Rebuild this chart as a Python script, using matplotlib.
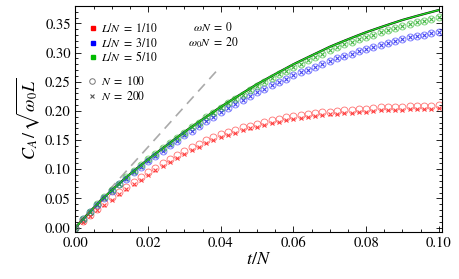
import numpy as np
import matplotlib
matplotlib.use('Agg')
import matplotlib.pyplot as plt
from matplotlib.ticker import MultipleLocator, FormatStrFormatter

plt.rcParams['font.family'] = 'STIXGeneral'
plt.rcParams['mathtext.fontset'] = 'stix'

# czas t/N (co 0.002)
t_N = [0.000, 0.002, 0.004, 0.006, 0.008, 0.010, 0.012, 0.014, 0.016, 0.018,
       0.020, 0.022, 0.024, 0.026, 0.028, 0.030, 0.032, 0.034, 0.036, 0.038,
       0.040, 0.042, 0.044, 0.046, 0.048, 0.050, 0.052, 0.054, 0.056, 0.058,
       0.060, 0.062, 0.064, 0.066, 0.068, 0.070, 0.072, 0.074, 0.076, 0.078,
       0.080, 0.082, 0.084, 0.086, 0.088, 0.090, 0.092, 0.094, 0.096, 0.098,
       0.100]

# krzywa ciagla (czarna / zielona)
curve = [0.0000, 0.0138, 0.0272, 0.0400, 0.0523, 0.0640, 0.0752, 0.0861, 0.0968, 0.1070,
         0.1170, 0.1266, 0.1360, 0.1454, 0.1547, 0.1640, 0.1727, 0.1814, 0.1900, 0.1985,
         0.2070, 0.2149, 0.2228, 0.2306, 0.2383, 0.2460, 0.2529, 0.2598, 0.2666, 0.2733,
         0.2800, 0.2861, 0.2921, 0.2981, 0.3040, 0.3100, 0.3152, 0.3203, 0.3253, 0.3302,
         0.3350, 0.3393, 0.3436, 0.3478, 0.3519, 0.3560, 0.3595, 0.3630, 0.3664, 0.3697,
         0.3730]

# L/N = 5/10
green_pts = [0.000, 0.014, 0.027, 0.040, 0.052, 0.064, 0.075, 0.086, 0.097, 0.107,
             0.117, 0.126, 0.136, 0.145, 0.154, 0.163, 0.172, 0.180, 0.189, 0.197,
             0.205, 0.213, 0.220, 0.228, 0.236, 0.243, 0.250, 0.256, 0.263, 0.269,
             0.275, 0.281, 0.287, 0.292, 0.298, 0.304, 0.309, 0.314, 0.318, 0.323,
             0.327, 0.331, 0.335, 0.339, 0.342, 0.346, 0.349, 0.352, 0.355, 0.358,
             0.361]

# L/N = 3/10
blue_pts = [0.000, 0.014, 0.027, 0.039, 0.051, 0.063, 0.074, 0.084, 0.095, 0.104,
            0.114, 0.123, 0.132, 0.141, 0.149, 0.158, 0.166, 0.174, 0.182, 0.190,
            0.198, 0.205, 0.212, 0.219, 0.225, 0.232, 0.238, 0.244, 0.250, 0.255,
            0.261, 0.266, 0.271, 0.276, 0.281, 0.286, 0.290, 0.294, 0.298, 0.302,
            0.306, 0.310, 0.313, 0.316, 0.320, 0.323, 0.326, 0.328, 0.331, 0.334,
            0.336]

# L/N = 1/10, N = 100
red_100 = [0.000, 0.011, 0.021, 0.032, 0.042, 0.052, 0.061, 0.070, 0.079, 0.087,
           0.095, 0.103, 0.110, 0.118, 0.125, 0.132, 0.138, 0.144, 0.150, 0.155,
           0.160, 0.164, 0.168, 0.172, 0.175, 0.178, 0.181, 0.184, 0.186, 0.189,
           0.191, 0.193, 0.195, 0.196, 0.198, 0.199, 0.200, 0.201, 0.202, 0.203,
           0.204, 0.205, 0.206, 0.206, 0.207, 0.207, 0.208, 0.208, 0.209, 0.209,
           0.210]

# L/N = 1/10, N = 200
red_200 = [0.000, 0.010, 0.020, 0.030, 0.039, 0.048, 0.057, 0.066, 0.074, 0.082,
           0.090, 0.098, 0.105, 0.113, 0.120, 0.127, 0.133, 0.139, 0.145, 0.150,
           0.155, 0.159, 0.163, 0.167, 0.170, 0.173, 0.176, 0.179, 0.181, 0.184,
           0.186, 0.188, 0.190, 0.191, 0.193, 0.194, 0.195, 0.196, 0.197, 0.198,
           0.199, 0.200, 0.201, 0.201, 0.202, 0.202, 0.203, 0.203, 0.204, 0.204,
           0.205]

# prosta dla krotkich czasow
dash_t = [0.0, 0.0395]
dash_v = [0.0, 0.273]

fig = plt.figure(figsize=(4.59, 2.79), dpi=100)
ax = fig.add_axes([0.1634, 0.1685, 0.7996, 0.81])

ax.plot(dash_t, dash_v, color='#aaaaaa', lw=1.2, dashes=(6, 4))
ax.plot(t_N, curve, color='black', lw=1.6)
ax.plot(t_N, curve, color='#22dd22', lw=1.0)

for vals, col in [(red_100, '#ff3333'), (blue_pts, '#3333ff'), (green_pts, '#33bb33')]:
    ax.plot(t_N, vals, 'o', ms=5, mfc='none', mec=col, mew=0.6, alpha=0.7)
for vals, col in [(red_200, '#ff2222'), (blue_pts, '#2222ee'), (green_pts, '#22aa22')]:
    ax.plot(t_N, vals, 'x', ms=2.8, mec=col, mew=0.8, alpha=0.85)

# legenda
tr = ax.transAxes
fs = 8.5
for yy, col, lab in [(0.901, '#ff0000', r'$L/N\ =\ 1/10$'),
                     (0.835, '#0000ff', r'$L/N\ =\ 3/10$'),
                     (0.773, '#00bb00', r'$L/N\ =\ 5/10$')]:
    ax.plot([0.049], [yy], 's', ms=2.5, color=col, transform=tr)
    ax.text(0.071, yy, lab, transform=tr, fontsize=fs, va='center', ha='left')
ax.plot([0.046], [0.667], 'o', ms=4, mfc='none', mec='#777777', mew=0.7, transform=tr)
ax.text(0.071, 0.667, r'$N\ =\ 100$', transform=tr, fontsize=fs, va='center', ha='left')
ax.plot([0.046], [0.600], 'x', ms=2.5, mec='#555555', mew=0.8, transform=tr)
ax.text(0.071, 0.600, r'$N\ =\ 200$', transform=tr, fontsize=fs, va='center', ha='left')
ax.text(0.376, 0.906, r'$\omega N\ =\ 0$', transform=tr, fontsize=fs, va='center', ha='center')
ax.text(0.376, 0.839, r'$\omega_0 N\ =\ 20$', transform=tr, fontsize=fs, va='center', ha='center')

ax.set_xlim(-0.0001, 0.1009)
ax.set_ylim(-0.0075, 0.380)
ax.xaxis.set_major_locator(MultipleLocator(0.02))
ax.xaxis.set_minor_locator(MultipleLocator(0.005))
ax.yaxis.set_major_locator(MultipleLocator(0.05))
ax.yaxis.set_minor_locator(MultipleLocator(0.01))
ax.xaxis.set_major_formatter(FormatStrFormatter('%.2f'))
ax.yaxis.set_major_formatter(FormatStrFormatter('%.2f'))
ax.tick_params(which='both', direction='in', top=True, right=True, width=0.6,
               labelsize=10.5, pad=3)
ax.tick_params(which='major', length=4)
ax.tick_params(which='minor', length=2)
for s in ax.spines.values():
    s.set_linewidth(0.8)

ax.set_xlabel(r'$t/N$', fontsize=13, labelpad=2)
ax.set_ylabel(r'$C_A\,/\,\sqrt{\omega_0 L}$', fontsize=13, labelpad=2)

fig.savefig('out.png', dpi=100)
